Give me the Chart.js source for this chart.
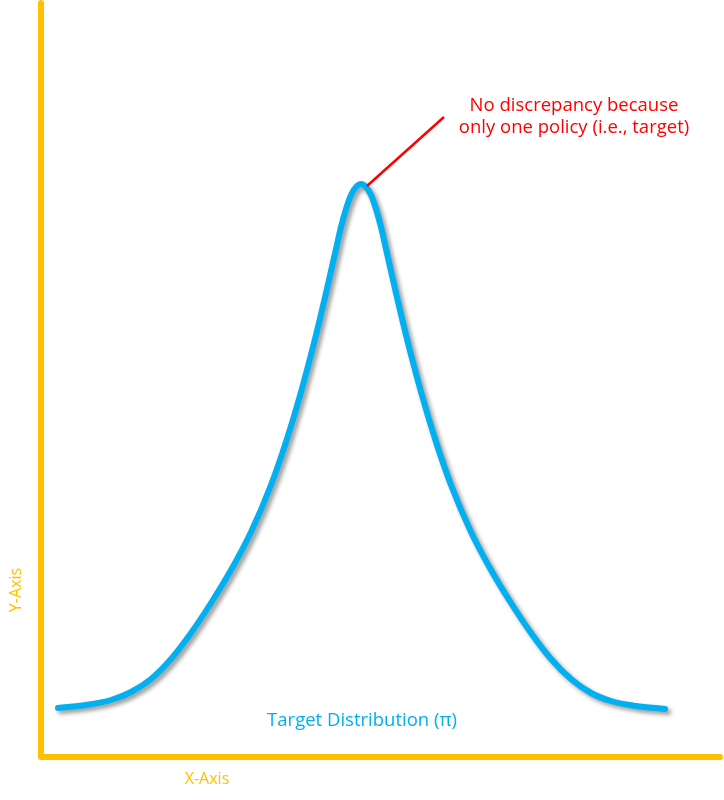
<!DOCTYPE html>
<html>
<head>
<meta charset="utf-8">
<script src="https://cdn.jsdelivr.net/npm/chart.js@4.4.1/dist/chart.umd.min.js"></script>
<style>
  html, body { margin: 0; padding: 0; background: #fff; }
  #wrap { width: 724px; height: 800px; }
</style>
</head>
<body>
<div id="wrap"><canvas id="dist"></canvas></div>
<script>
// Target distribution curve
// x: offset from the peak, y: height above the x-axis
const xValues = [-303, -275, -250, -230, -210, -190, -170, -150, -130, -110, -90, -75, -60, -45, -35, -25, -20, -15, -10, -5, 0,
                 5, 10, 15, 20, 25, 35, 45, 60, 75, 90, 110, 130, 150, 170, 190, 210, 230, 250, 275, 304];
const yValues = [49, 52, 57, 65, 78, 98, 124, 154, 187, 225, 272, 315, 365, 422, 464, 508, 530, 548, 562, 570, 573,
                 570, 562, 548, 530, 508, 464, 422, 365, 315, 272, 225, 187, 154, 124, 98, 78, 64, 56, 51, 48];

const curveLabel = 'Target Distribution (\u03c0)';
const noteLines = ['No discrepancy because', 'only one policy (i.e., target)'];

const axisColor = '#FFC000';
const curveColor = '#00B0F0';
const fontFamily = '"Open Sans", "Noto Sans", sans-serif';

const points = xValues.map((x, i) => ({ x: x, y: yValues[i] }));

// drop shadow under the curve
const shadowPlugin = {
    id: 'shadow',
    beforeDatasetDraw(chart) {
        const ctx = chart.ctx;
        ctx.save();
        ctx.shadowColor = 'rgba(0,0,0,0.4)';
        ctx.shadowBlur = 4;
        ctx.shadowOffsetX = 3;
        ctx.shadowOffsetY = 3;
    },
    afterDatasetDraw(chart) {
        chart.ctx.restore();
    }
};

// axes, labels and the callout
const decorPlugin = {
    id: 'decor',
    beforeDatasetsDraw(chart) {
        const { ctx, chartArea } = chart;
        ctx.save();
        ctx.strokeStyle = axisColor;
        ctx.lineWidth = 6;
        ctx.lineCap = 'round';
        ctx.lineJoin = 'round';
        ctx.beginPath();
        ctx.moveTo(chartArea.left, chartArea.top + 2);
        ctx.lineTo(chartArea.left, chartArea.bottom);
        ctx.lineTo(chartArea.right - 2, chartArea.bottom);
        ctx.stroke();

        ctx.fillStyle = axisColor;
        ctx.font = '16px ' + fontFamily;
        ctx.textAlign = 'center';
        ctx.textBaseline = 'middle';
        ctx.fillText('X-Axis', 207, 779);
        ctx.translate(16, 590);
        ctx.rotate(-Math.PI / 2);
        ctx.fillText('Y-Axis', 0, 0);
        ctx.restore();
    },
    afterDatasetsDraw(chart) {
        const { ctx, scales } = chart;
        const xs = scales.x, ys = scales.y;
        ctx.save();
        // callout line from the peak
        const px = xs.getPixelForValue(0), py = ys.getPixelForValue(573);
        ctx.strokeStyle = '#FF0000';
        ctx.lineWidth = 2.5;
        ctx.beginPath();
        ctx.moveTo(px + 6, py + 2);
        ctx.lineTo(xs.getPixelForValue(83), ys.getPixelForValue(640));
        ctx.stroke();

        ctx.font = '18.5px ' + fontFamily;
        ctx.textAlign = 'center';
        ctx.textBaseline = 'middle';
        ctx.fillStyle = '#FF0000';
        ctx.fillText(noteLines[0], 574, 106);
        ctx.fillText(noteLines[1], 574, 128);

        ctx.fillStyle = curveColor;
        ctx.fillText(curveLabel, 362, 721);
        ctx.restore();
    }
};

new Chart(document.getElementById('dist').getContext('2d'), {
    type: 'line',
    data: {
        datasets: [{
            label: curveLabel,
            data: points,
            borderColor: curveColor,
            borderWidth: 6,
            borderCapStyle: 'round',
            borderJoinStyle: 'round',
            cubicInterpolationMode: 'monotone',
            pointRadius: 0,
            fill: false
        }]
    },
    options: {
        responsive: true,
        maintainAspectRatio: false,
        animation: false,
        layout: { padding: { left: 41, right: 2, top: 1, bottom: 43 } },
        plugins: {
            legend: { display: false },
            tooltip: { enabled: false }
        },
        scales: {
            x: { type: 'linear', min: -320, max: 361, display: false },
            y: { type: 'linear', min: 0, max: 756, display: false }
        }
    },
    plugins: [shadowPlugin, decorPlugin]
});
</script>
</body>
</html>
